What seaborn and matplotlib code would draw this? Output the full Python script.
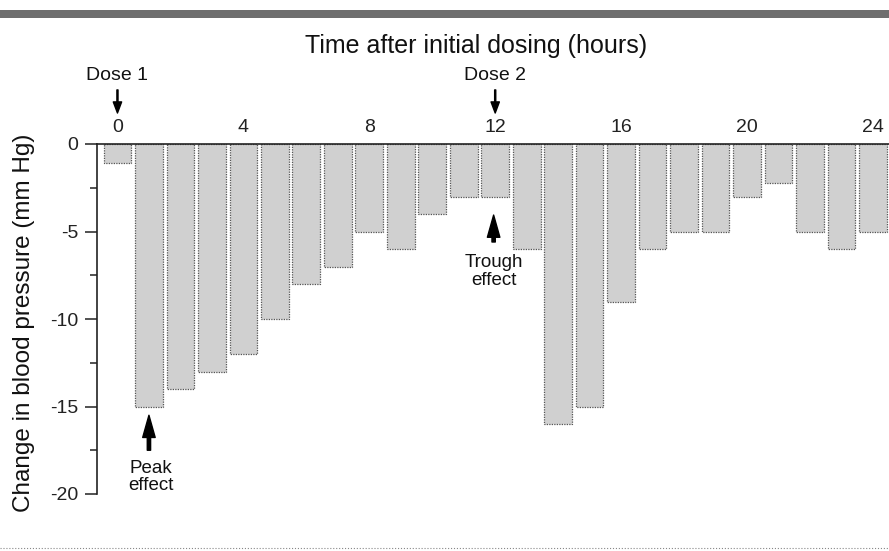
import matplotlib
matplotlib.use("Agg")
import matplotlib.pyplot as plt
import seaborn as sns
from matplotlib.patches import Rectangle
from matplotlib.lines import Line2D

# Data
hours = list(range(25))
bp_change = [-1.1, -15, -14, -13, -12, -10, -8, -7, -5, -6, -4, -3, -3,
             -6, -16, -15, -9, -6, -5, -5, -3, -2.2, -5, -6, -5]
hour_ticks = [0, 4, 8, 12, 16, 20, 24]
y_ticks = [0, -5, -10, -15, -20]
y_minor = [-2.5, -7.5, -12.5, -17.5]

sns.set_style("white")
plt.rcParams["font.family"] = ["Liberation Sans", "DejaVu Sans"]

fig = plt.figure(figsize=(8.89, 5.51), dpi=100)
ax = fig.add_axes([97 / 889, 57 / 551, 792 / 889, 350 / 551])

sns.barplot(x=hours, y=bp_change, color="#d0d0d0", saturation=1, width=0.88,
            edgecolor="#555555", linewidth=0.9, ax=ax)
for p in ax.patches:
    p.set_linestyle((0, (1, 1)))

ax.set_xlim(-0.65, 24.51)
ax.set_ylim(-20, 0)

# x axis on top, no tick marks
ax.xaxis.tick_top()
ax.set_xticks(hour_ticks)
ax.set_xticklabels([str(h) for h in hour_ticks])
ax.tick_params(axis="x", length=0, pad=5.5, labelsize=14, colors="#222222")

ax.set_yticks(y_ticks)
ax.set_yticklabels([str(v) for v in y_ticks])
ax.set_yticks(y_minor, minor=True)
ax.tick_params(axis="y", which="major", left=True, length=9, width=1.1,
               direction="out", pad=4.5, labelsize=14, colors="#222222")
ax.tick_params(axis="y", which="minor", left=True, length=5, width=1.1,
               direction="out", colors="#222222")

for side in ["right", "bottom"]:
    ax.spines[side].set_visible(False)
for side in ["top", "left"]:
    ax.spines[side].set_color("#222222")
    ax.spines[side].set_linewidth(1.2)

ax.set_xlabel("Time after initial dosing (hours)", fontsize=18, color="#111111")
ax.xaxis.set_label_position("top")
ax.xaxis.set_label_coords(0.4785, 1.28)
ax.xaxis.label.set_va("center")

ax.set_ylabel("Change in blood pressure (mm Hg)", fontsize=17.5, color="#111111")
ax.yaxis.set_label_coords(-0.092, 0.489)
ax.yaxis.label.set_va("center")

# dose markers above the axis
thin = dict(width=0.8, headwidth=6, headlength=8, color="black")
for h, label in [(0, "Dose 1"), (12, "Dose 2")]:
    ax.annotate("", xy=(h, 1.77), xytext=(h, 3.09), arrowprops=thin,
                annotation_clip=False)
    ax.text(h, 3.94, label, ha="center", va="center", fontsize=14,
            color="#111111", clip_on=False)

# effect markers below bars
thick = dict(width=2.4, headwidth=9, headlength=16, color="black")
ax.annotate("", xy=(1, -15.5), xytext=(1, -17.5), arrowprops=thick)
ax.text(1.05, -19.03, "Peak\neffect", ha="center", va="center", fontsize=13.5,
        linespacing=1.05, color="#111111")
ax.annotate("", xy=(11.95, -4.06), xytext=(11.95, -5.6), arrowprops=thick)
ax.text(11.95, -7.3, "Trough\neffect", ha="center", va="center", fontsize=13.5,
        linespacing=1.05, color="#111111")

# frame decorations
fig.add_artist(Rectangle((0, 1 - 18 / 551), 1, 8 / 551, transform=fig.transFigure,
                         facecolor="#6e6e6e", edgecolor="none"))
fig.add_artist(Line2D([0, 1], [3 / 551, 3 / 551], transform=fig.transFigure,
                      color="#888888", lw=0.8, ls=":"))

fig.savefig("out.png", dpi=100)
